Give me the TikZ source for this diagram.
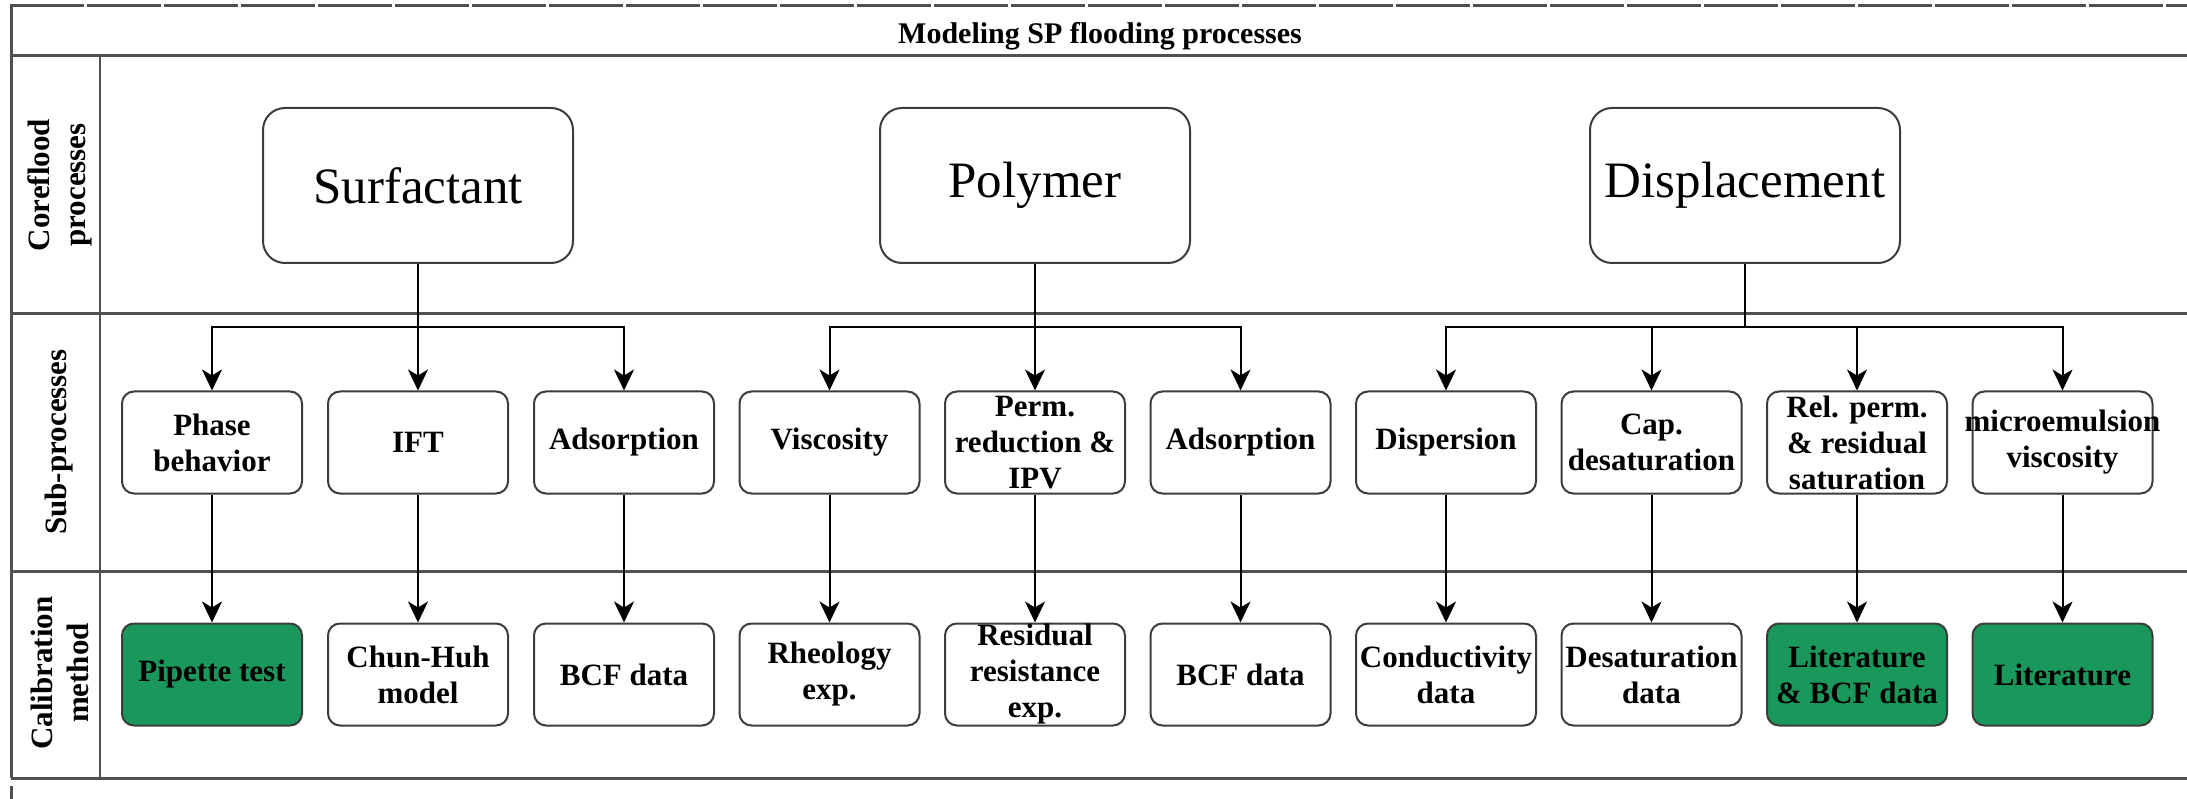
\documentclass[tikz,border=0pt]{standalone}
\usepackage{fontspec}
\setmainfont{Liberation Serif}
\usetikzlibrary{arrows.meta}
\definecolor{boxgreen}{RGB}{26,152,92}
\definecolor{lineg}{RGB}{60,60,60}
\definecolor{gridg}{RGB}{80,80,80}
\begin{document}
\begin{tikzpicture}[x=1pt,y=-1pt,
  sub/.style={draw=lineg, line width=2pt, rounded corners=12pt, minimum width=180pt, minimum height=102pt, inner xsep=2pt, inner ysep=0pt, align=center, font=\fontsize{31}{36}\selectfont\bfseries, fill=white},
  calg/.style={sub, fill=boxgreen},
  topbox/.style={draw=lineg, line width=2pt, rounded corners=22pt, minimum width=310pt, minimum height=155pt, font=\fontsize{51}{60}\selectfont},
  arr/.style={line width=2pt, -{Stealth[length=21pt,width=20pt,inset=6pt]}},
  gridline/.style={gridg, line width=3pt},
  lab/.style={rotate=90, align=center, font=\fontsize{31}{36}\selectfont\bfseries}
]
\useasboundingbox (0,0) rectangle (2187,799);
% table lines
\draw[gridline, dash pattern=on 74pt off 3pt] (10,6) -- (2187,6);
\draw[gridline] (11,6) -- (11,778);
\draw[gridline] (11,786) -- (11,799);
\draw[gridline] (11,56) -- (2187,56);
\draw[gridline] (11,314) -- (2187,314);
\draw[gridline] (11,571) -- (2187,571);
\draw[gridline] (11,778) -- (2187,778);
\draw[gridline, line width=2.5pt] (100,56) -- (100,778);
% title and side labels
\node (title) at (1100,36) {\fontsize{30}{36}\selectfont\bfseries Modeling SP flooding processes};
\node[lab] (lab1) at (60,185) {Coreflood\\processes};
\node[lab] (lab2) at (59,442) {Sub-processes};
\node[lab] (lab3) at (60,673) {Calibration\\method};
% top boxes
\node[topbox] (surf) at (418,185.5) {Surfactant};
\node[topbox] (poly) at (1035,185.5) {Polymer};
\node[topbox] (disp) at (1745,185.5) {Displacement};
% sub-processes
\node[sub] (phase) at (212,442.5) {Phase\\behavior};
\node[sub] (ift) at (418,442.5) {IFT};
\node[sub] (adsa) at (624,442.5) {Adsorption};
\node[sub] (visc) at (829.5,442.5) {Viscosity};
\node[sub] (perm) at (1035,442.5) {Perm.\\reduction \&\\IPV};
\node[sub] (adsb) at (1240.5,442.5) {Adsorption};
\node[sub] (dispn) at (1446,442.5) {Dispersion};
\node[sub] (cap) at (1651.5,442.5) {Cap.\\desaturation};
\node[sub] (rel) at (1857,442.5) {Rel. perm.\\\& residual\\saturation};
\node[sub] (micro) at (2062.5,442.5) {\makebox[0pt]{microemulsion}\\viscosity};
% calibration
\node[calg] (pip) at (212,674.5) {Pipette test};
\node[sub] (chun) at (418,674.5) {Chun-Huh\\model};
\node[sub] (bcfa) at (624,674.5) {BCF data};
\node[sub] (rheo) at (829.5,674.5) {Rheology\\exp.};
\node[sub] (resid) at (1035,674.5) {Residual\\resistance\\exp.};
\node[sub] (bcfb) at (1240.5,674.5) {BCF data};
\node[sub] (cond) at (1446,674.5) {Conductivity\\data};
\node[sub] (desat) at (1651.5,674.5) {Desaturation\\data};
\node[calg] (lita) at (1857,674.5) {Literature\\\& BCF data};
\node[calg] (litb) at (2062.5,674.5) {Literature};
% connectors top -> sub
\draw[arr] (surf.south) -- (ift.north);
\draw[arr] (surf.south) -- ++(0,63) -| (phase.north);
\draw[arr] (surf.south) -- ++(0,63) -| (adsa.north);
\draw[arr] (poly.south) -- (perm.north);
\draw[arr] (poly.south) -- ++(0,63) -| (visc.north);
\draw[arr] (poly.south) -- ++(0,63) -| (adsb.north);
\draw[arr] (disp.south) -- ++(0,63) -| (dispn.north);
\draw[arr] (disp.south) -- ++(0,63) -| (cap.north);
\draw[arr] (disp.south) -- ++(0,63) -| (rel.north);
\draw[arr] (disp.south) -- ++(0,63) -| (micro.north);
% sub -> calibration
\draw[arr] (phase) -- (pip);
\draw[arr] (ift) -- (chun);
\draw[arr] (adsa) -- (bcfa);
\draw[arr] (visc) -- (rheo);
\draw[arr] (perm) -- (resid);
\draw[arr] (adsb) -- (bcfb);
\draw[arr] (dispn) -- (cond);
\draw[arr] (cap) -- (desat);
\draw[arr] (rel) -- (lita);
\draw[arr] (micro) -- (litb);
\end{tikzpicture}
\end{document}
